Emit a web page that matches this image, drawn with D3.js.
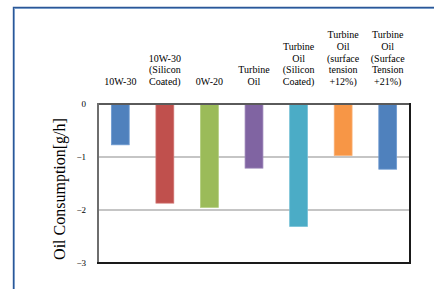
<!DOCTYPE html>
<html><head><meta charset="utf-8">
<script src="https://cdn.jsdelivr.net/npm/d3@7"></script>
<style>html,body{margin:0;padding:0;background:#fff;overflow:hidden}</style>
</head><body>
<script>
const categories = [
  ["10W-30"],
  ["10W-30","(Silicon","Coated)"],
  ["0W-20"],
  ["Turbine","Oil"],
  ["Turbine","Oil","(Silicon","Coated)"],
  ["Turbine","Oil","(surface","tension","+12%)"],
  ["Turbine","Oil","(Surface","Tension","+21%)"]
];
const values = [-0.77, -1.87, -1.95, -1.21, -2.31, -0.97, -1.23];
const colors = ["#4F81BD","#C0504D","#9BBB59","#8064A2","#4BACC6","#F79646","#4F81BD"];
const strokes = ["#6f9bd1","#d07370","#b0cc7a","#9a84b8","#74c0d6","#f9ae72","#6f9bd1"];
const yTicks = [0,-1,-2,-3];
const yTitle = "Oil Consumption[g/h]";

const W = 434, H = 289;
const svg = d3.select("body").append("svg").attr("width", W).attr("height", H);
const font = "'Liberation Serif','Times New Roman',serif";

// outer frame
svg.append("path").attr("d", "M14.5,289 V8.5 H434").attr("fill","none").attr("stroke","#8fb0d8").attr("stroke-width",1);
svg.append("path").attr("d", "M13.5,289 V7.5 H434").attr("fill","none").attr("stroke","#2b5797").attr("stroke-width",1.4);

const L = 98, R = 410, T = 104, B = 263;
const x = d3.scaleBand().domain(d3.range(values.length)).range([L, R]).paddingInner(0.6).paddingOuter(0.3);
const y = d3.scaleLinear().domain([0, -3]).range([T, B]);

// gridlines
svg.append("g").selectAll("line").data([-1,-2]).join("line")
  .attr("x1", L).attr("x2", R).attr("y1", d => y(d)).attr("y2", d => y(d))
  .attr("stroke", "#8c8c8c").attr("stroke-width", 1.2);

// bars
svg.append("g").selectAll("rect").data(values).join("rect")
  .attr("x", (d,i) => x(i)).attr("width", x.bandwidth())
  .attr("y", y(0)).attr("height", d => y(d) - y(0))
  .attr("fill", (d,i) => colors[i]).attr("stroke", (d,i) => strokes[i]).attr("stroke-width", 0.8);

// frame of plot
svg.append("line").attr("x1", L).attr("x2", R).attr("y1", T).attr("y2", T).attr("stroke","#5a5a5a").attr("stroke-width",2);
svg.append("line").attr("x1", L).attr("x2", L).attr("y1", T-1).attr("y2", B+1).attr("stroke","#6e6e6e").attr("stroke-width",2);
svg.append("line").attr("x1", L-1).attr("x2", R+1).attr("y1", B).attr("y2", B).attr("stroke","#1a1a1a").attr("stroke-width",2);
svg.append("line").attr("x1", R).attr("x2", R).attr("y1", T-1).attr("y2", B+1).attr("stroke","#1a1a1a").attr("stroke-width",2);

// y ticks labels
const yAxis = d3.axisLeft(y).tickValues(yTicks).tickFormat(d3.format("d")).tickSize(0).tickPadding(0);
const ga = svg.append("g").attr("transform", `translate(${L-12},0)`).call(yAxis);
ga.select(".domain").remove();
ga.selectAll("text").attr("font-family", font).attr("font-size", 9).attr("fill","#000").attr("dy","0.3em");

// category labels (bottom aligned)
const lh = 11.7, lastBase = 85;
const cg = svg.append("g");
categories.forEach((lines, i) => {
  const cx = x(i) + x.bandwidth()/2;
  const t = cg.append("text").attr("text-anchor","middle").attr("font-family", font).attr("font-size", 10).attr("fill","#000");
  lines.forEach((s, j) => {
    t.append("tspan").attr("x", cx).attr("y", lastBase - (lines.length - 1 - j) * lh).text(s);
  });
});

// y title
svg.append("text").attr("transform", `translate(65,189) rotate(-90)`)
  .attr("text-anchor","middle").attr("font-family", font).attr("font-size", 16).attr("fill","#000").text(yTitle);
</script>
</body></html>
